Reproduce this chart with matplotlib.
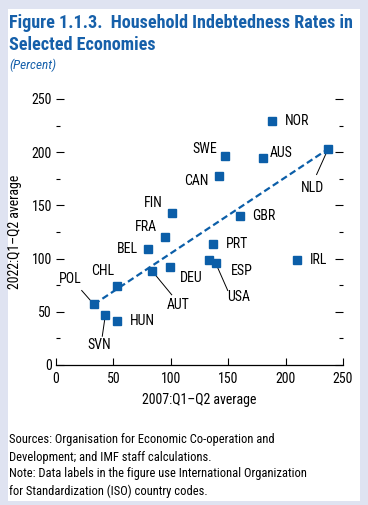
import matplotlib
matplotlib.use("Agg")
from matplotlib import pyplot as plt
from matplotlib.patches import Rectangle
from matplotlib.ticker import MultipleLocator

# Data
countries = ['NOR', 'AUS', 'SWE', 'CAN', 'NLD', 'FIN', 'GBR', 'FRA', 'PRT', 'BEL',
             'IRL', 'ESP', 'USA', 'DEU', 'AUT', 'CHL', 'POL', 'SVN', 'HUN']
x2007 = [188, 180, 147, 142, 237, 101, 160, 95, 137, 80,
         210, 133, 139, 99, 84, 53, 33, 43, 53]
y2022 = [229, 195, 196, 178, 203, 143, 140, 120, 114, 109,
         99, 99, 96, 92, 88, 74, 57, 47, 41]
trend_x = [33, 237]
trend_y = [57, 203]

# label positions (x, y, ha) and optional leader line end
label_pos = {
    'NOR': (199, 229, 'left'), 'AUS': (186, 199, 'left'), 'SWE': (140, 203, 'right'),
    'CAN': (133, 173, 'right'), 'NLD': (223, 166, 'center'), 'FIN': (93, 152, 'right'),
    'GBR': (171, 140, 'left'), 'FRA': (88, 130, 'right'), 'PRT': (148, 114, 'left'),
    'BEL': (71, 109, 'right'), 'IRL': (221, 99, 'left'), 'ESP': (152, 88, 'left'),
    'USA': (159, 64, 'center'), 'DEU': (108, 82, 'left'), 'AUT': (106.5, 56, 'center'),
    'CHL': (41, 88.5, 'center'), 'POL': (12, 81, 'center'), 'SVN': (37.5, 19, 'center'),
    'HUN': (64, 41, 'left'),
}
leaders = {
    'NLD': (227, 179), 'USA': (149.6, 70), 'AUT': (100.8, 66),
    'POL': (22.4, 70), 'SVN': (40.3, 27),
}

blue = '#0b5ea8'
title_blue = '#1660aa'
fam = ['Roboto Condensed', 'Archivo Narrow', 'DejaVu Sans']
plt.rcParams['font.family'] = fam

W, H = 368, 505
fig = plt.figure(figsize=(W / 100, H / 100), dpi=100)
fig.patch.set_facecolor('#dfe3f1')
fig.patches.append(Rectangle((8 / W, 4 / H), 352 / W, 492 / H, transform=fig.transFigure,
                             facecolor='white', edgecolor='none', zorder=-10))

fig.text(9 / W, 1 - 23 / H, 'Figure 1.1.3.  Household Indebtedness Rates in',
         fontsize=13.1, fontweight='bold', color=title_blue, va='center')
fig.text(9 / W, 1 - 45 / H, 'Selected Economies',
         fontsize=13.1, fontweight='bold', color=title_blue, va='center')
fig.text(9 / W, 1 - 65 / H, '(Percent)', fontsize=9.5, style='italic', color=title_blue, va='center')

ax = fig.add_axes([56 / W, 1 - 365 / H, 287 / W, 266 / H])
ax.set_facecolor('none')

ax.plot(trend_x, trend_y, linestyle=(0, (3, 1.6)), color=blue, lw=1.6, zorder=2)
ax.plot(x2007, y2022, linestyle='none', marker='s', markersize=5.8, color=blue, zorder=3,
        clip_on=False)

for c, x, y in zip(countries, x2007, y2022):
    lx, ly, ha = label_pos[c]
    ax.text(lx, ly, c, fontsize=10, ha=ha, va='center')
    if c in leaders:
        ex, ey = leaders[c]
        ax.plot([x, ex], [y, ey], color='black', lw=0.7, zorder=1)

ax.set_xlim(0, 250)
ax.set_ylim(0, 250)
ax.xaxis.set_major_locator(MultipleLocator(50))
ax.yaxis.set_major_locator(MultipleLocator(50))
ax.yaxis.set_minor_locator(MultipleLocator(25))
for s in ['left', 'right', 'top']:
    ax.spines[s].set_visible(False)
ax.spines['bottom'].set_linewidth(0.9)
ax.tick_params(axis='y', which='major', direction='in', length=6, width=0.8,
               left=True, right=True, labelsize=10, pad=3)
ax.tick_params(axis='y', which='minor', direction='in', length=3, width=0.8,
               left=True, right=True)
ax.tick_params(axis='x', which='major', direction='in', length=5, width=0.8,
               labelsize=10, pad=5)

ax.set_xlabel('2007:Q1\u2013Q2 average', fontsize=10, labelpad=5)
ax.set_ylabel('2022:Q1\u2013Q2 average', fontsize=10, labelpad=7)

notes = ['Sources: Organisation for Economic Co-operation and',
         'Development; and IMF staff calculations.',
         'Note: Data labels in the figure use International Organization',
         'for Standardization (ISO) country codes.']
for i, line in enumerate(notes):
    fig.text(9 / W, 1 - (440 + 17 * i) / H, line, fontsize=9, va='center')

fig.savefig('out.png', dpi=100, facecolor=fig.get_facecolor())
